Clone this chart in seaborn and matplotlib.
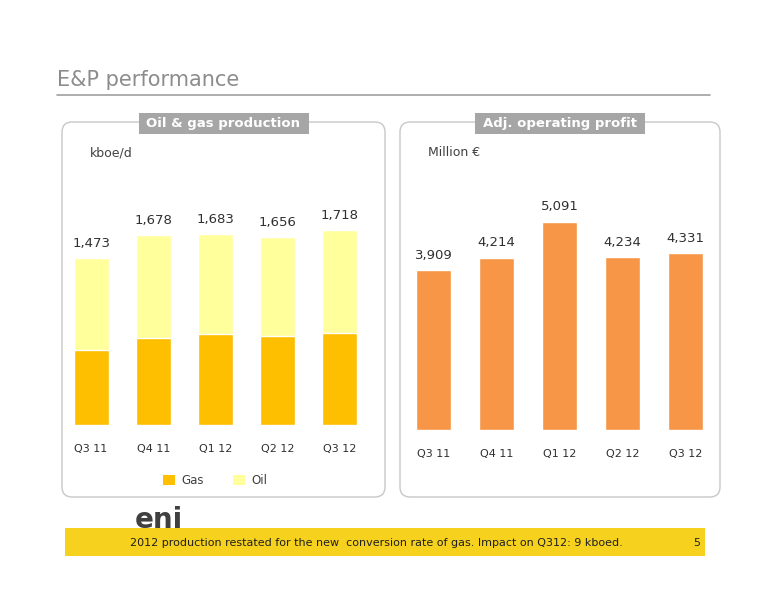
import matplotlib
matplotlib.use("Agg")
import matplotlib.pyplot as plt
from matplotlib.patches import FancyBboxPatch, Rectangle
import seaborn as sns
import pandas as pd

quarters = ["Q3 11", "Q4 11", "Q1 12", "Q2 12", "Q3 12"]
total_prod = [1473, 1678, 1683, 1656, 1718]
gas_prod = [662, 765, 800, 784, 815]
profit = [3909, 4214, 5091, 4234, 4331]

GAS = "#FDBF00"
OIL = "#FFFF9C"
PROFIT = "#F79646"
GREY = "#8C8C8C"

sns.set_theme(style="white")
plt.rcParams["font.family"] = ["DejaVu Sans"]

W, H = 776, 600
fig = plt.figure(figsize=(7.76, 6), dpi=100)


def px_axes(x0, y0, x1, y1):
    return fig.add_axes([x0 / W, 1 - y1 / H, (x1 - x0) / W, (y1 - y0) / H])


bg = fig.add_axes([0, 0, 1, 1])
bg.set_xlim(0, W)
bg.set_ylim(H, 0)
bg.axis("off")

bg.text(57, 80, "E&P performance", fontsize=15, color=GREY, va="center")
bg.plot([57, 710], [95, 95], color="#A0A0A0", lw=1.2)

for x0, x1, title in [(62, 385, "Oil & gas production"), (400, 720, "Adj. operating profit")]:
    bg.add_patch(FancyBboxPatch((x0, 122), x1 - x0, 375, boxstyle="round,pad=0,rounding_size=10",
                                fc="white", ec="#C8C8C8", lw=1))
    cx = (x0 + x1) / 2
    bg.add_patch(Rectangle((cx - 85, 113), 170, 21, fc="#A6A6A6", ec="none"))
    bg.text(cx, 124, title, ha="center", va="center", color="white", fontsize=9.5, fontweight="bold")

bg.text(90, 153, "kboe/d", fontsize=9, color="#404040", va="center")
bg.text(428, 153, "Million €", fontsize=9, color="#404040", va="center")

# legend
bg.add_patch(Rectangle((163, 475), 12, 10, fc=GAS, ec="none"))
bg.text(181, 480, "Gas", fontsize=8.5, color="#404040", va="center")
bg.add_patch(Rectangle((233, 475), 12, 10, fc=OIL, ec="none"))
bg.text(251, 480, "Oil", fontsize=8.5, color="#404040", va="center")

# footer
bg.add_patch(Rectangle((65, 528), 640, 28, fc="#F6D21E", ec="none"))
bg.text(130, 543, "2012 production restated for the new  conversion rate of gas. Impact on Q312: 9 kboed.",
        fontsize=8, color="#202020", va="center")
bg.text(693, 543, "5", fontsize=8, color="#202020", va="center")
bg.text(135, 520, "eni", fontsize=20, color="#404040", va="center", fontweight="bold")

# production chart
df_p = pd.DataFrame({"q": quarters, "total": total_prod, "gas": gas_prod})
ax1 = px_axes(60, 200, 371, 425)
sns.barplot(data=df_p, x="q", y="total", color=OIL, width=0.56, saturation=1, ax=ax1)
sns.barplot(data=df_p, x="q", y="gas", color=GAS, width=0.56, saturation=1, ax=ax1)
ax1.set_ylim(0, 1985)
for i, v in enumerate(total_prod):
    ax1.text(i, v + 70, f"{v:,}", ha="center", va="bottom", fontsize=9.5, color="#303030")

# profit chart
df_r = pd.DataFrame({"q": quarters, "profit": profit})
ax2 = px_axes(402, 200, 717, 430)
sns.barplot(data=df_r, x="q", y="profit", color=PROFIT, width=0.57, saturation=1, ax=ax2)
ax2.set_ylim(0, 5620)
for i, v in enumerate(profit):
    ax2.text(i, v + 200, f"{v:,}", ha="center", va="bottom", fontsize=9.5, color="#303030")

for ax in (ax1, ax2):
    ax.set_xlabel("")
    ax.set_ylabel("")
    ax.set_yticks([])
    ax.patch.set_alpha(0)
    sns.despine(ax=ax, left=True, bottom=True)
    ax.tick_params(axis="x", labelsize=8, colors="#303030", pad=8)

fig.savefig("out.png", dpi=100)
